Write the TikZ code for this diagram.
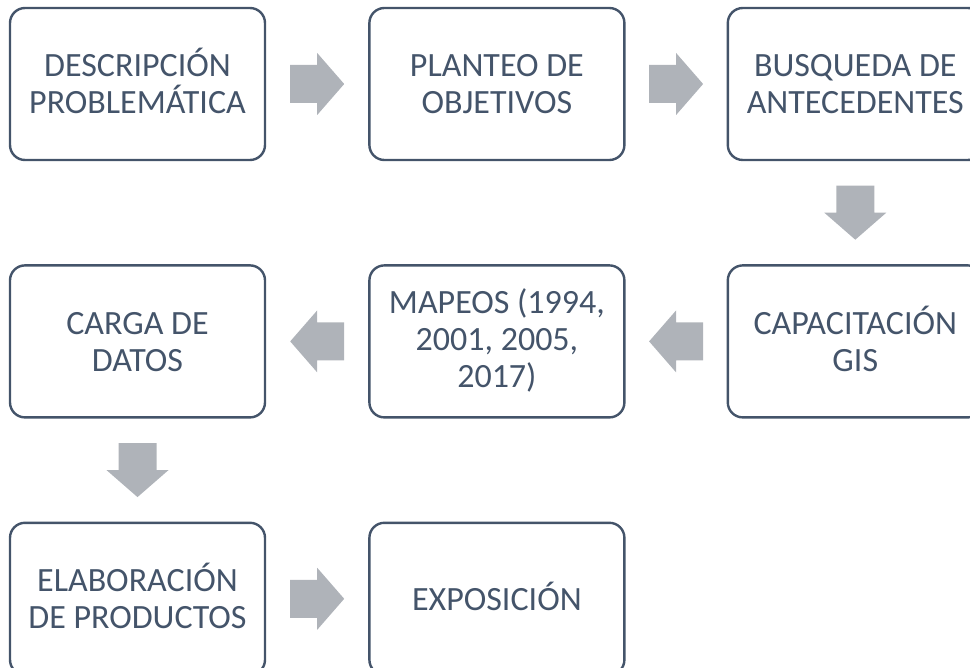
\documentclass[tikz,border=0pt]{standalone}
\usepackage{fontspec}
\setmainfont{Carlito}
\usepackage{xcolor}
\usetikzlibrary{positioning,calc}
\definecolor{slate}{HTML}{44546A}
\definecolor{arrowgrey}{RGB}{175,179,185}

\begin{document}
\begin{tikzpicture}[x=1pt,y=1pt,
                    node distance=103pt and 102pt]
\tikzset{stepbox/.style={draw=slate,line width=2.4pt,rounded corners=15pt,
           minimum width=255pt,minimum height=152pt,text=slate,inner sep=0pt,
           text width=245pt,align=flush center,text height=23pt,
           font=\fontsize{34}{37}\selectfont},
         pics/blockarrow/.style={code={
           \fill[arrowgrey] (-27,-19) -- (0,-19) -- (0,-31) -- (27,0)
             -- (0,31) -- (0,19) -- (-27,19) -- cycle;}}}
\useasboundingbox (0,0) rectangle (970,-668);
\node[stepbox] (DESC) at (137.5,-84) {DESCRIPCIÓN\\PROBLEMÁTICA};
\node[stepbox] (PLAN) [right=of DESC] {PLANTEO DE\\OBJETIVOS};
\node[stepbox] (BUSQ) [right=101pt of PLAN] {BUSQUEDA DE\\ANTECEDENTES};
\node[stepbox] (CAPA) [below=of BUSQ] {CAPACITACIÓN\\GIS};
\node[stepbox] (MAPE) [left=101pt of CAPA] {MAPEOS (1994,\\2001, 2005,\\2017)};
\node[stepbox] (CARG) [left=of MAPE] {CARGA DE\\DATOS};
\node[stepbox] (ELAB) [below=of CARG] {ELABORACIÓN\\DE PRODUCTOS};
\node[stepbox] (EXPO) [right=of ELAB] {EXPOSICIÓN};

% block arrows between the steps
\pic at ($(DESC.east)!0.5!(PLAN.west)$) {blockarrow};
\pic at ($(PLAN.east)!0.5!(BUSQ.west)$) {blockarrow};
\pic[rotate=-90] at ($(BUSQ.south)!0.5!(CAPA.north)$) {blockarrow};
\pic[rotate=180] at ($(CAPA.west)!0.5!(MAPE.east)$) {blockarrow};
\pic[rotate=180] at ($(MAPE.west)!0.5!(CARG.east)$) {blockarrow};
\pic[rotate=-90] at ($(CARG.south)!0.5!(ELAB.north)$) {blockarrow};
\pic at ($(ELAB.east)!0.5!(EXPO.west)$) {blockarrow};
\end{tikzpicture}
\end{document}
